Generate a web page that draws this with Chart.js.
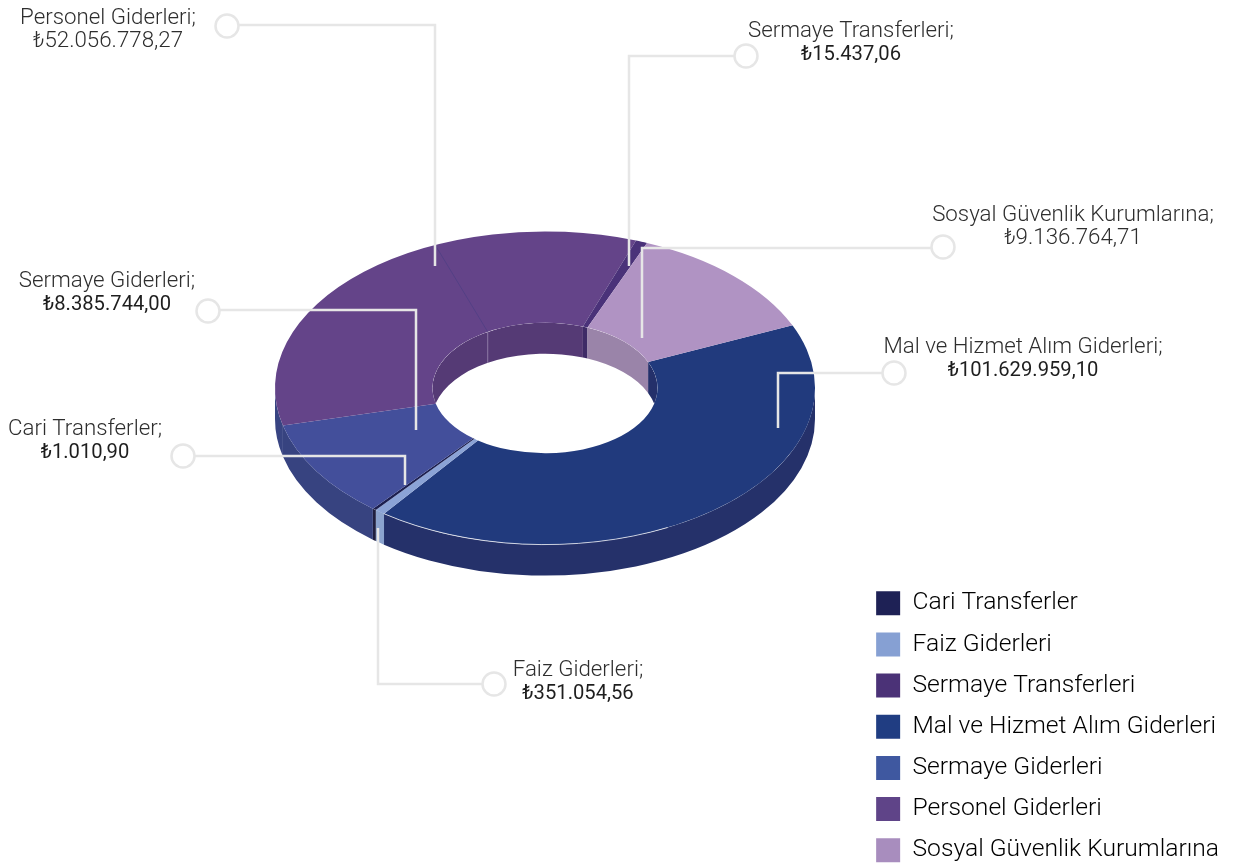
<!DOCTYPE html>
<html lang="tr">
<head>
<meta charset="utf-8">
<title>Giderler</title>
<script src="https://cdn.jsdelivr.net/npm/chart.js@4/dist/chart.umd.min.js"></script>
<style>
  html, body { margin: 0; padding: 0; background: #fff; overflow: hidden; }
  canvas { display: block; }
</style>
</head>
<body>
<canvas id="chart" width="1235" height="900"></canvas>
<script>
// ===============================
// DATA (ring order, clockwise)
// ===============================
const categories = ["Mal ve Hizmet Alım Giderleri", "Faiz Giderleri", "Cari Transferler", "Sermaye Giderleri", "Personel Giderleri", "Sermaye Transferleri", "Sosyal Güvenlik Kurumlarına"];
// slice sizes as measured on the picture (degrees), not the printed amounts
const sliceSizes = [150.2, 2.2, 0.8, 36.5, 123.6, 2.5, 44.2];
const printedValues = ["₺101.629.959,10", "₺351.054,56", "₺1.010,90", "₺8.385.744,00", "₺52.056.778,27", "₺15.437,06", "₺9.136.764,71"];
const legendOrder = ["Cari Transferler", "Faiz Giderleri", "Sermaye Transferleri", "Mal ve Hizmet Alım Giderleri", "Sermaye Giderleri", "Personel Giderleri", "Sosyal Güvenlik Kurumlarına"];

// ===============================
// COLOURS
// ===============================
const topColors = ["#213A7D", "#8BA3D6", "#1C1F50", "#434F9B", "#644489", "#4A3279", "#B093C3"];
const outerWallColors = ["#25316A", "#8BA3CE", "#1F1F40", "#374380", "#384482", "#3A2A66", "#8F7AA0"];
const innerWallColors = ["#24306A", "#8BA3CE", "#1F1F40", "#374380", "#553A75", "#3E2B66", "#9A84A9"];
const legendColors = ["#203D82", "#86A0D3", "#1E2155", "#3F58A0", "#5F4488", "#4B3277", "#A88DBE"];
const lineColor = "#E6E6E6";

// ===============================
// LAYOUT
// ===============================
const ringCenter = { x: 545, y: 388 };
const squash = 0.58;
const depth = 31;
const outerRadius = 270;
const innerRadius = 112.5;
const deg = Math.PI / 180;
const seamOuterAngle = -114 * deg;
const seamInnerAngle = -120.6 * deg;
const rimFrom = 63 * deg;
const rimTo = 126.6 * deg;

// text centre, first text line y, value weight, circle, leader corner, leader end
const callouts = [
  { i: 4, tx: 108, ty: 16, w: "300", c: [227, 26], bend: [435, 25], end: [435, 266] },
  { i: 5, tx: 851, ty: 29, w: "400", c: [746, 56], bend: [629, 56], end: [629, 266] },
  { i: 6, tx: 1073, ty: 213, w: "300", c: [943, 247], bend: [642, 248], end: [642, 338] },
  { i: 0, tx: 1023, ty: 345, w: "400", c: [894, 373], bend: [778, 373], end: [778, 428] },
  { i: 3, tx: 107, ty: 279, w: "400", c: [208, 311], bend: [416, 310], end: [416, 430] },
  { i: 2, tx: 85, ty: 427, w: "400", c: [183, 456], bend: [405, 456], end: [405, 485] },
  { i: 1, tx: 578, ty: 668, w: "400", c: [494, 684], bend: [378, 684], end: [378, 528] }
];

// ===============================
// 3D RING PLUGIN
// ===============================
function wallPath(ctx, radius, a0, a1) {
  const ry = radius * squash;
  ctx.beginPath();
  ctx.ellipse(ringCenter.x, ringCenter.y, radius, ry, 0, a0, a1);
  ctx.ellipse(ringCenter.x, ringCenter.y + depth, radius, ry, 0, a1, a0, true);
  ctx.closePath();
}

// draws the part of each arc's wall that falls inside the visible half
function drawWalls(chart, radius, colors, from, to) {
  const ctx = chart.ctx;
  chart.getDatasetMeta(0).data.forEach((arc, i) => {
    const p = arc.getProps(["startAngle", "endAngle"]);
    for (let k = -1; k <= 1; k++) {
      const a0 = Math.max(p.startAngle, from + k * 2 * Math.PI);
      const a1 = Math.min(p.endAngle, to + k * 2 * Math.PI);
      if (a1 <= a0) continue;
      ctx.fillStyle = colors[i];
      wallPath(ctx, radius, a0, a1);
      ctx.fill();
    }
  });
}

function ringPoint(radius, angle) {
  return [ringCenter.x + radius * Math.cos(angle), ringCenter.y + radius * squash * Math.sin(angle)];
}

const ringPlugin = {
  id: "ring3d",
  beforeDatasetsDraw(chart) {
    const ctx = chart.ctx;
    drawWalls(chart, outerRadius, outerWallColors, 0, Math.PI);
    // arcs are drawn by the library, flattened into the ring ellipse
    const arc = chart.getDatasetMeta(0).data[0];
    ctx.save();
    ctx.translate(ringCenter.x, ringCenter.y);
    ctx.scale(1, squash);
    ctx.translate(-arc.x, -arc.y);
  },
  afterDatasetsDraw(chart) {
    const ctx = chart.ctx;
    ctx.restore();

    // inner wall, only inside the hole
    ctx.save();
    ctx.beginPath();
    ctx.ellipse(ringCenter.x, ringCenter.y, innerRadius, innerRadius * squash, 0, 0, 2 * Math.PI);
    ctx.clip();
    drawWalls(chart, innerRadius, innerWallColors, Math.PI, 2 * Math.PI);
    ctx.restore();

    // faint seam on the purple slice and its wall
    const sIn = ringPoint(innerRadius, seamInnerAngle);
    const sOut = ringPoint(outerRadius, seamOuterAngle);
    ctx.lineWidth = 1;
    ctx.strokeStyle = "rgba(70,60,130,0.55)";
    ctx.beginPath();
    ctx.moveTo(sIn[0], sIn[1]);
    ctx.lineTo(sOut[0], sOut[1]);
    ctx.stroke();
    ctx.strokeStyle = "rgba(190,175,205,0.55)";
    ctx.beginPath();
    ctx.moveTo(sIn[0], sIn[1]);
    ctx.lineTo(sIn[0], sIn[1] + depth);
    ctx.stroke();

    // light rim along the front edge
    ctx.strokeStyle = "rgba(255,255,255,0.7)";
    ctx.beginPath();
    ctx.ellipse(ringCenter.x, ringCenter.y, outerRadius, outerRadius * squash, 0, rimFrom, rimTo);
    ctx.stroke();

    drawCallouts(ctx);
  }
};

// ===============================
// CALLOUTS
// ===============================
function drawCallouts(ctx) {
  callouts.forEach(co => {
    const dir = co.bend[0] > co.c[0] ? 1 : -1;
    ctx.strokeStyle = lineColor;
    ctx.lineWidth = 2.5;
    ctx.beginPath();
    ctx.arc(co.c[0], co.c[1], 11.5, 0, 2 * Math.PI);
    ctx.stroke();
    ctx.beginPath();
    ctx.moveTo(co.c[0] + dir * 11.5, co.bend[1]);
    ctx.lineTo(co.bend[0], co.bend[1]);
    ctx.lineTo(co.end[0], co.end[1]);
    ctx.stroke();

    ctx.textAlign = "center";
    ctx.textBaseline = "middle";
    ctx.fillStyle = "#2E2E2E";
    ctx.font = "300 22.3px Roboto, 'DejaVu Sans'";
    ctx.fillText(categories[co.i] + ";", co.tx, co.ty + 2.5);
    ctx.fillStyle = co.w === "300" ? "#2E2E2E" : "#1E1E1E";
    ctx.font = co.w === "300" ? "300 22.3px Roboto, 'DejaVu Sans'" : "400 20.2px Roboto, 'DejaVu Sans'";
    ctx.fillText(printedValues[co.i], co.tx, co.ty + 25.5);
  });
}

// ===============================
// CHART
// ===============================
new Chart(document.getElementById("chart"), {
  type: "doughnut",
  data: {
    labels: categories,
    datasets: [{
      data: sliceSizes,
      backgroundColor: topColors,
      borderWidth: 0,
      hoverOffset: 0,
      clip: false,
      radius: outerRadius,
      cutout: (innerRadius / outerRadius * 100) + "%"
    }]
  },
  options: {
    responsive: false,
    animation: false,
    rotation: 66.4,
    layout: { padding: { bottom: 21, right: 6 } },
    plugins: {
      tooltip: { enabled: false },
      legend: {
        position: "right",
        align: "end",
        labels: {
          boxWidth: 24,
          boxHeight: 24,
          padding: 16.5,
          color: "#444444",
          font: { family: "Roboto", weight: "300", size: 24.65 },
          generateLabels: chart => legendOrder.map(name => {
            const i = categories.indexOf(name);
            return { text: name, fillStyle: legendColors[i], strokeStyle: legendColors[i], lineWidth: 0, index: i };
          })
        }
      }
    }
  },
  plugins: [ringPlugin]
});
</script>
</body>
</html>
